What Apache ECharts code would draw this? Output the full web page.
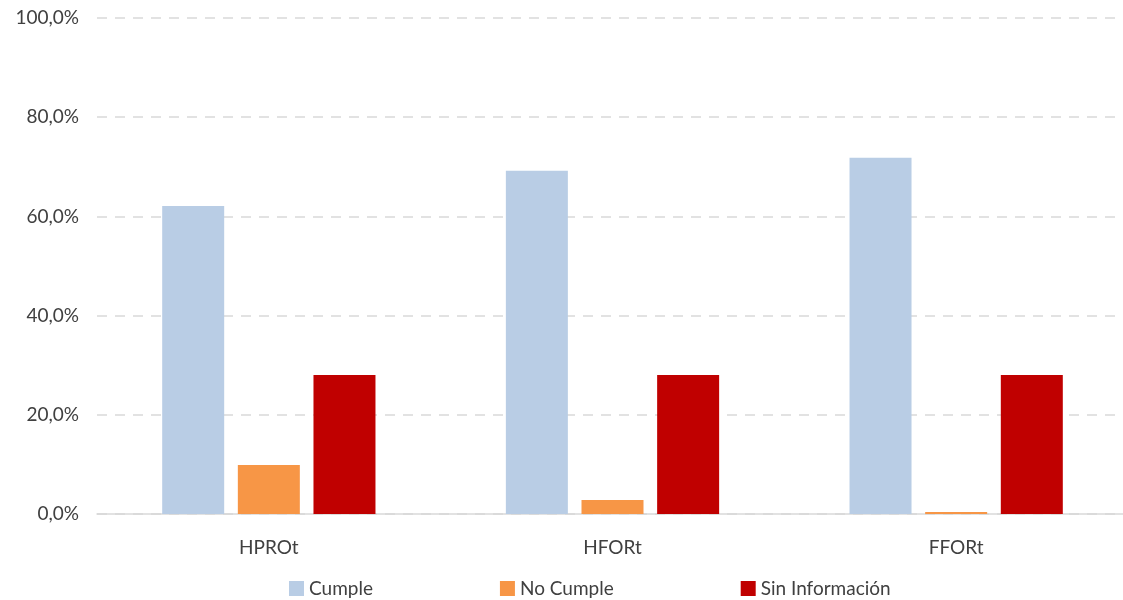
<!DOCTYPE html>
<html><head><meta charset="utf-8">
<script src="https://cdn.jsdelivr.net/npm/echarts@6/dist/echarts.min.js"></script>
<style>html,body{margin:0;padding:0;background:#fff}#c{width:1123px;height:600px}</style>
</head><body><div id="c"></div>
<script>
const categories = ['HPROt', 'HFORt', 'FFORt'];
const seriesNames = ['Cumple', 'No Cumple', 'Sin Información'];
const cumple = [62.1, 69.2, 71.8];
const noCumple = [9.9, 2.8, 0.4];
const sinInfo = [28.0, 28.0, 28.0];
const colors = ['#B9CDE5', '#F79646', '#C00000'];
const font = 'Lato, "Open Sans", sans-serif';

const chart = echarts.init(document.getElementById('c'));
const data = [cumple, noCumple, sinInfo];
chart.setOption({
  animation: false,
  grid: {left: 97, width: 1031, top: 18, bottom: 86, outerBoundsMode: 'none', containLabel: false},
  legend: {
    top: 574, left: 284, itemWidth: 15, itemHeight: 15, itemGap: 127,
    icon: 'rect',
    textStyle: {fontFamily: font, fontSize: 19, color: '#404040'},
    data: seriesNames
  },
  xAxis: {
    type: 'category', data: categories,
    axisTick: {show: false},
    axisLine: {lineStyle: {color: '#D9D9D9', width: 1.5}},
    axisLabel: {fontFamily: font, fontSize: 19, color: '#404040', margin: 24}
  },
  yAxis: {
    type: 'value', min: 0, max: 100, interval: 20,
    axisLine: {show: false}, axisTick: {show: false},
    splitLine: {lineStyle: {color: '#D9D9D9', type: [10, 8], width: 1.5}},
    axisLabel: {fontFamily: font, fontSize: 19, color: '#404040', margin: 18,
      formatter: v => v.toFixed(1).replace('.', ',') + '%'}
  },
  series: seriesNames.map((n, i) => ({
    name: n, type: 'bar', data: data[i], barWidth: 62, barGap: '22%',
    itemStyle: {color: colors[i]}
  }))
});
</script></body></html>
